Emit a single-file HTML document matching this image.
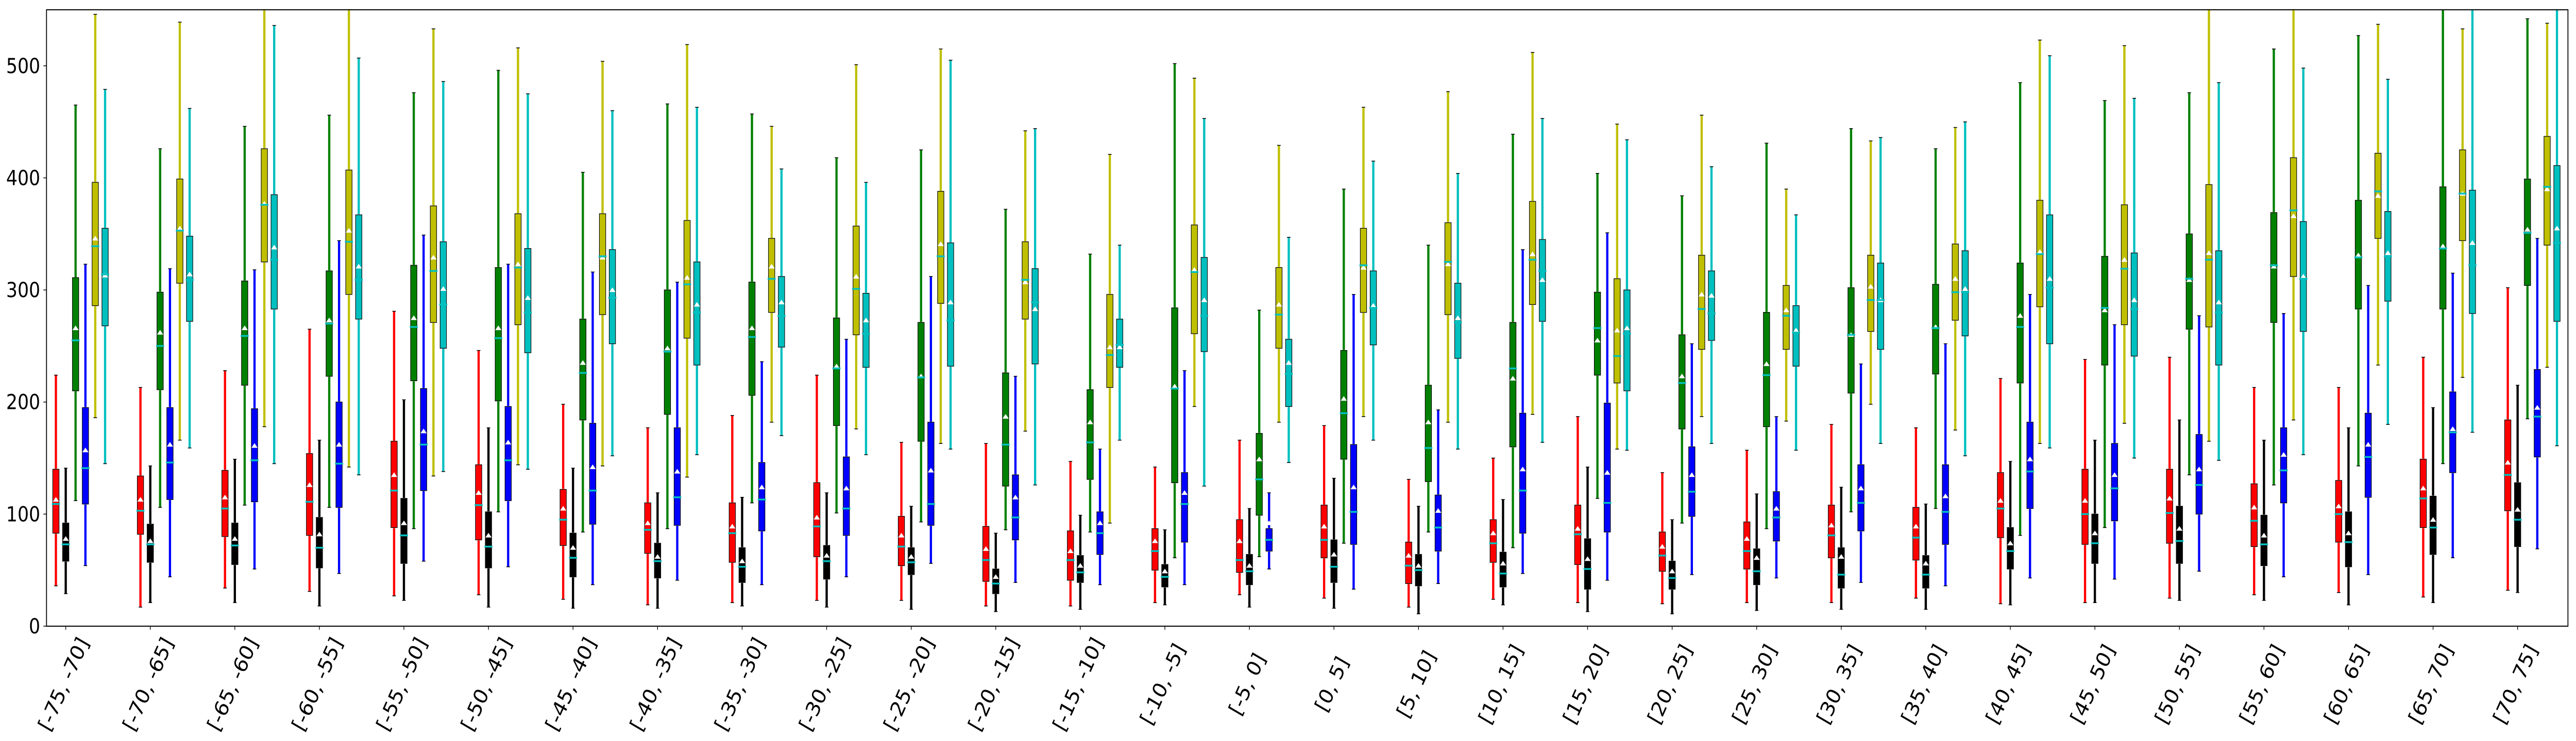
<!DOCTYPE html>
<html><head><meta charset="utf-8">
<style>
html,body{margin:0;padding:0;background:#fff;width:100%;height:100%;overflow:hidden;}
svg{display:block;width:100vw;height:100vh;}
text{font-family:"DejaVu Sans","Liberation Sans",sans-serif;}
</style></head>
<body>
<svg id="chart" viewBox="0 0 5760 1439" preserveAspectRatio="none" xmlns="http://www.w3.org/2000/svg">
<defs><clipPath id="plotclip"><rect x="104" y="19" width="5638" height="1197"/></clipPath></defs>
<rect x="0" y="0" width="5760" height="1439" fill="#fff"/>
<g id="marks" clip-path="url(#plotclip)"></g>
<rect x="104" y="19" width="5638" height="1197" fill="none" stroke="#000" stroke-width="2"/>
<g id="axes"></g>
</svg>
<script>
const categories = ["[-75, -70]","[-70, -65]","[-65, -60]","[-60, -55]","[-55, -50]","[-50, -45]","[-45, -40]","[-40, -35]","[-35, -30]","[-30, -25]","[-25, -20]","[-20, -15]","[-15, -10]","[-10, -5]","[-5, 0]","[0, 5]","[5, 10]","[10, 15]","[15, 20]","[20, 25]","[25, 30]","[30, 35]","[35, 40]","[40, 45]","[45, 50]","[50, 55]","[55, 60]","[60, 65]","[65, 70]","[70, 75]"];
const yTicks = [0,100,200,300,400,500];
// each entry: [whisker-low, q1, median, q3, whisker-high, mean]
const redStats = [[36,83,109,140,224,113],[17,82,103,134,213,113],[34,80,105,139,228,115],[31,81,111,154,265,126],[27,88,121,165,281,135],[28,77,108,144,246,119],[24,72,95,122,198,105],[19,65,86,110,177,92],[21,57,83,110,188,89],[23,62,89,128,224,97],[23,54,71,98,164,81],[18,40,59,89,163,69],[18,41,59,85,147,67],[21,50,67,87,142,76],[28,48,59,95,166,76],[25,61,77,108,179,89],[17,38,54,75,131,63],[24,57,74,95,150,83],[21,55,82,108,187,87],[20,49,63,84,137,71],[21,51,67,93,157,78],[21,61,81,108,180,90],[25,59,79,106,177,89],[20,79,105,137,221,112],[21,73,100,140,238,112],[25,74,101,140,240,114],[28,71,94,127,213,106],[30,75,100,130,213,107],[26,88,114,149,240,123],[32,103,135,184,302,146]];
const blackStats = [[29,58,73,92,141,78],[21,57,73,91,143,76],[21,55,72,92,149,78],[18,52,70,97,166,82],[23,56,81,114,202,92],[17,52,71,102,177,81],[16,44,61,83,141,70],[16,43,58,74,119,62],[18,39,53,70,115,58],[17,42,58,72,119,63],[15,46,57,70,107,62],[13,29,38,51,83,44],[15,39,48,63,99,54],[19,35,44,55,86,49],[17,37,49,64,105,54],[16,39,53,77,132,64],[11,36,50,64,107,54],[19,35,47,66,113,56],[13,33,51,78,142,60],[11,33,43,58,95,49],[14,37,49,69,118,61],[15,34,46,70,124,62],[15,34,46,63,109,56],[19,51,67,88,147,74],[21,56,74,100,166,83],[23,56,76,107,184,87],[23,54,73,99,166,81],[19,53,75,102,177,83],[21,64,88,116,195,95],[30,71,95,128,215,104]];
const greenStats = [[112,210,255,311,465,266],[106,211,250,298,426,262],[108,215,259,308,446,266],[106,223,270,317,456,273],[87,219,267,322,476,275],[102,201,257,320,496,266],[84,184,226,274,405,235],[87,189,245,300,466,248],[110,206,258,307,457,266],[101,179,230,275,418,232],[93,165,222,271,425,223],[86,125,162,226,372,187],[84,131,164,211,332,182],[61,128,212,284,502,214],[62,99,131,172,282,149],[74,149,190,246,390,203],[84,129,159,215,340,182],[70,160,230,271,439,221],[114,224,266,298,404,255],[92,176,217,260,384,223],[87,178,224,280,431,234],[102,208,260,302,444,260],[105,225,266,305,426,267],[81,217,267,324,485,277],[88,233,284,330,469,282],[135,265,310,350,476,309],[126,271,322,369,515,321],[143,283,329,380,527,331],[145,283,337,392,570,339],[185,304,351,399,542,354]];
const blueStats = [[54,109,141,195,323,157],[44,113,146,195,319,162],[51,111,148,194,318,161],[47,106,145,200,344,162],[58,121,162,212,349,174],[53,112,148,196,323,164],[37,91,121,181,316,142],[41,90,115,177,307,138],[37,85,113,146,236,124],[44,81,105,151,256,123],[56,90,109,182,312,139],[39,77,97,135,223,115],[37,64,83,102,158,92],[37,75,109,137,228,119],[51,67,77,87,119,92],[33,73,102,162,296,124],[38,67,88,117,193,103],[47,83,121,190,336,140],[41,84,110,199,351,137],[46,98,120,160,252,135],[43,76,97,120,187,105],[39,85,110,144,234,123],[36,73,102,144,252,116],[43,105,138,182,296,149],[42,94,123,163,269,135],[49,100,126,171,277,140],[44,110,139,177,279,153],[46,115,151,190,304,162],[61,137,173,209,315,176],[69,151,187,229,346,195]];
const yellowStats = [[186,286,339,396,546,346],[166,306,353,399,539,355],[178,325,376,426,560,377],[142,296,343,407,560,353],[134,271,317,375,533,329],[144,269,320,368,516,323],[143,278,330,368,504,329],[133,257,305,362,519,311],[182,280,310,346,446,321],[176,260,301,357,501,312],[163,288,330,388,515,341],[174,274,309,343,442,307],[92,213,242,296,421,249],[196,261,316,358,489,318],[182,248,278,320,429,287],[187,280,322,355,463,320],[182,278,325,360,477,323],[189,287,327,379,512,332],[158,217,241,310,448,264],[187,247,283,331,456,296],[183,247,277,304,390,282],[198,263,291,331,433,303],[175,273,298,341,445,310],[163,285,332,380,523,334],[181,269,319,376,518,327],[165,267,327,394,560,333],[184,312,371,418,560,366],[233,346,388,422,537,384],[222,344,386,425,533,386],[231,340,392,437,538,390]];
const cyanStats = [[145,268,314,355,479,313],[159,272,309,348,462,314],[145,283,327,385,536,338],[135,274,309,367,507,321],[138,248,287,343,486,301],[140,244,280,337,475,293],[152,252,293,336,460,300],[153,233,280,325,463,287],[170,249,277,312,408,289],[153,231,261,297,396,273],[158,232,273,342,505,289],[126,234,289,319,444,283],[166,231,251,274,340,249],[125,245,277,329,453,291],[146,196,225,256,347,235],[166,251,284,317,415,286],[158,239,271,306,404,275],[164,272,317,345,453,309],[157,210,261,300,434,266],[163,255,279,317,410,295],[157,232,262,286,367,264],[163,247,291,324,436,291],[152,259,298,335,450,301],[159,252,302,367,509,310],[150,241,283,333,471,291],[148,233,280,335,485,289],[153,263,310,361,498,312],[180,290,330,370,488,333],[173,279,322,389,570,342],[161,272,342,411,570,355]];
const seriesNames = ["red","black","green","blue","yellow","cyan"];
const seriesColors = ["#ff0000","#000000","#008000","#0000ff","#bfbf00","#00bfbf"];

const NS = "http://www.w3.org/2000/svg";
const PL = 104, PR = 5742, PT = 19, PB = 1216, YMAX = 550;
function yScale(v){ return PB - v * (PB - PT) / YMAX; }
function xScale(i){ return 147 + i * 189.05; }
const offsets = [-22, 0, 22, 44, 66, 88];
function mk(tag, attrs, parent){ const e = document.createElementNS(NS, tag); for (const k in attrs) e.setAttribute(k, attrs[k]); parent.appendChild(e); return e; }

const marks = document.getElementById('marks');
const axes = document.getElementById('axes');
const allStats = [redStats, blackStats, greenStats, blueStats, yellowStats, cyanStats];

allStats.forEach((stats, s) => {
  const col = seriesColors[s];
  stats.forEach((d, i) => {
    const cx = xScale(i) + offsets[s];
    const g = mk('g', {}, marks);
    
    
    const [lo, q1, med, q3, hi, mean] = d;
    mk('line', {x1: cx, x2: cx, y1: yScale(lo), y2: yScale(hi), stroke: col, 'stroke-width': 5}, g);
    mk('line', {x1: cx-4, x2: cx+4, y1: yScale(lo), y2: yScale(lo), stroke: '#000', 'stroke-width': 1.5}, g);
    mk('line', {x1: cx-4, x2: cx+4, y1: yScale(hi), y2: yScale(hi), stroke: '#000', 'stroke-width': 1.5}, g);
    mk('rect', {x: cx-8, y: yScale(q3)-1, width: 16, height: yScale(q1)-yScale(q3)+2, fill: '#cccccc'}, g);
    mk('rect', {x: cx-7, y: yScale(q3), width: 14, height: yScale(q1)-yScale(q3), fill: col, stroke: '#000', 'stroke-width': 1.2}, g);
    const my = yScale(mean);
    mk('polygon', {points: (cx-7)+','+(my+4)+' '+(cx+7)+','+(my+4)+' '+cx+','+(my-5), fill: '#fff'}, g);
    mk('line', {x1: cx-9, x2: cx+9, y1: yScale(med), y2: yScale(med), stroke: '#00bfbf', 'stroke-width': 3.5}, g);
  });
});

yTicks.forEach(t => {
  const y = yScale(t);
  const tk = mk('line', {x1: PL-7, x2: PL, y1: y, y2: y, stroke: '#000', 'stroke-width': 1.5}, axes);
  
  
  const tx = mk('text', {x: PL-14, y: y+14, 'text-anchor': 'end', 'font-size': 40, fill: '#000'}, axes);
  tx.textContent = String(t);
  
  
});

categories.forEach((c, i) => {
  const x = xScale(i);
  const tk = mk('line', {x1: x, x2: x, y1: PB, y2: PB+7, stroke: '#000', 'stroke-width': 1.5}, axes);
  
  
  const tx = mk('text', {x: 0, y: 0, 'text-anchor': 'middle', 'dominant-baseline': 'middle', 'font-size': 42, fill: '#000', transform: 'translate(' + (x-2) + ',1330) rotate(-63)'}, axes);
  tx.textContent = c;
  
  
});
</script>
</body></html>
